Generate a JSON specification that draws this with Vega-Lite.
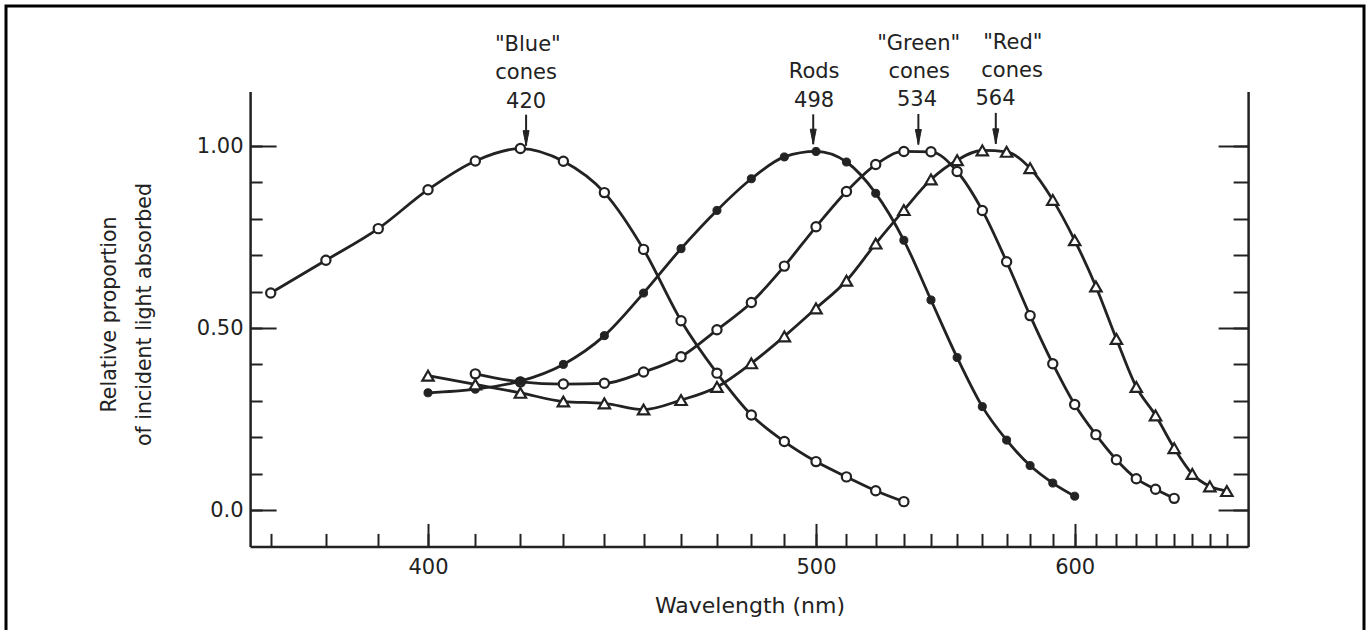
{
  "$schema": "https://vega.github.io/schema/vega-lite/v6.json",
  "width": 1358,
  "height": 630,
  "autosize": {"type": "none"},
  "padding": {"left": 6, "top": 6, "right": 6, "bottom": 0},
  "background": "white",
  "config": {
    "view": {"stroke": "#000000", "strokeWidth": 3},
    "font": "DejaVu Sans",
    "axis": {
      "grid": false,
      "labelFont": "DejaVu Sans",
      "titleFont": "DejaVu Sans",
      "labelColor": "#222222",
      "titleColor": "#222222",
      "tickColor": "#222222",
      "domainColor": "#222222",
      "tickWidth": 2,
      "domainWidth": 2.5,
      "labelFontSize": 21,
      "titleFontSize": 22,
      "titleFontWeight": "normal",
      "labelFlush": false,
      "labelOverlap": false
    }
  },
  "datasets": {
    "curves": [
      {"series": "Blue", "wl": 370, "v": 0.596},
      {"series": "Blue", "wl": 380, "v": 0.686},
      {"series": "Blue", "wl": 390, "v": 0.773},
      {"series": "Blue", "wl": 400, "v": 0.880},
      {"series": "Blue", "wl": 410, "v": 0.959},
      {"series": "Blue", "wl": 420, "v": 0.993},
      {"series": "Blue", "wl": 430, "v": 0.958},
      {"series": "Blue", "wl": 440, "v": 0.872},
      {"series": "Blue", "wl": 450, "v": 0.716},
      {"series": "Blue", "wl": 460, "v": 0.520},
      {"series": "Blue", "wl": 470, "v": 0.376},
      {"series": "Blue", "wl": 480, "v": 0.261},
      {"series": "Blue", "wl": 490, "v": 0.188},
      {"series": "Blue", "wl": 500, "v": 0.133},
      {"series": "Blue", "wl": 510, "v": 0.091},
      {"series": "Blue", "wl": 520, "v": 0.053},
      {"series": "Blue", "wl": 530, "v": 0.023},
      {"series": "Rods", "wl": 400, "v": 0.322},
      {"series": "Rods", "wl": 410, "v": 0.332},
      {"series": "Rods", "wl": 420, "v": 0.354},
      {"series": "Rods", "wl": 430, "v": 0.400},
      {"series": "Rods", "wl": 440, "v": 0.479},
      {"series": "Rods", "wl": 450, "v": 0.596},
      {"series": "Rods", "wl": 460, "v": 0.718},
      {"series": "Rods", "wl": 470, "v": 0.823},
      {"series": "Rods", "wl": 480, "v": 0.910},
      {"series": "Rods", "wl": 490, "v": 0.970},
      {"series": "Rods", "wl": 500, "v": 0.985},
      {"series": "Rods", "wl": 510, "v": 0.956},
      {"series": "Rods", "wl": 520, "v": 0.870},
      {"series": "Rods", "wl": 530, "v": 0.741},
      {"series": "Rods", "wl": 540, "v": 0.577},
      {"series": "Rods", "wl": 550, "v": 0.419},
      {"series": "Rods", "wl": 560, "v": 0.284},
      {"series": "Rods", "wl": 570, "v": 0.192},
      {"series": "Rods", "wl": 580, "v": 0.122},
      {"series": "Rods", "wl": 590, "v": 0.074},
      {"series": "Rods", "wl": 600, "v": 0.038},
      {"series": "Green", "wl": 410, "v": 0.374},
      {"series": "Green", "wl": 420, "v": 0.352},
      {"series": "Green", "wl": 430, "v": 0.346},
      {"series": "Green", "wl": 440, "v": 0.348},
      {"series": "Green", "wl": 450, "v": 0.379},
      {"series": "Green", "wl": 460, "v": 0.421},
      {"series": "Green", "wl": 470, "v": 0.495},
      {"series": "Green", "wl": 480, "v": 0.570},
      {"series": "Green", "wl": 490, "v": 0.670},
      {"series": "Green", "wl": 500, "v": 0.778},
      {"series": "Green", "wl": 510, "v": 0.875},
      {"series": "Green", "wl": 520, "v": 0.949},
      {"series": "Green", "wl": 530, "v": 0.985},
      {"series": "Green", "wl": 540, "v": 0.984},
      {"series": "Green", "wl": 550, "v": 0.930},
      {"series": "Green", "wl": 560, "v": 0.823},
      {"series": "Green", "wl": 570, "v": 0.682},
      {"series": "Green", "wl": 580, "v": 0.534},
      {"series": "Green", "wl": 590, "v": 0.402},
      {"series": "Green", "wl": 600, "v": 0.290},
      {"series": "Green", "wl": 610, "v": 0.207},
      {"series": "Green", "wl": 620, "v": 0.138},
      {"series": "Green", "wl": 630, "v": 0.086},
      {"series": "Green", "wl": 640, "v": 0.057},
      {"series": "Green", "wl": 650, "v": 0.032},
      {"series": "Red", "wl": 400, "v": 0.369},
      {"series": "Red", "wl": 410, "v": 0.345},
      {"series": "Red", "wl": 420, "v": 0.322},
      {"series": "Red", "wl": 430, "v": 0.298},
      {"series": "Red", "wl": 440, "v": 0.293},
      {"series": "Red", "wl": 450, "v": 0.276},
      {"series": "Red", "wl": 460, "v": 0.302},
      {"series": "Red", "wl": 470, "v": 0.338},
      {"series": "Red", "wl": 480, "v": 0.403},
      {"series": "Red", "wl": 490, "v": 0.477},
      {"series": "Red", "wl": 500, "v": 0.554},
      {"series": "Red", "wl": 510, "v": 0.630},
      {"series": "Red", "wl": 520, "v": 0.732},
      {"series": "Red", "wl": 530, "v": 0.824},
      {"series": "Red", "wl": 540, "v": 0.908},
      {"series": "Red", "wl": 550, "v": 0.961},
      {"series": "Red", "wl": 560, "v": 0.988},
      {"series": "Red", "wl": 570, "v": 0.984},
      {"series": "Red", "wl": 580, "v": 0.939},
      {"series": "Red", "wl": 590, "v": 0.852},
      {"series": "Red", "wl": 600, "v": 0.741},
      {"series": "Red", "wl": 610, "v": 0.614},
      {"series": "Red", "wl": 620, "v": 0.470},
      {"series": "Red", "wl": 630, "v": 0.338},
      {"series": "Red", "wl": 640, "v": 0.260},
      {"series": "Red", "wl": 650, "v": 0.170},
      {"series": "Red", "wl": 660, "v": 0.099},
      {"series": "Red", "wl": 670, "v": 0.065},
      {"series": "Red", "wl": 680, "v": 0.052}
    ],
    "labels": [
      {"wl": 421.7, "v": 1.262, "label": "\"Blue\""},
      {"wl": 421.3, "v": 1.183, "label": "cones"},
      {"wl": 421.3, "v": 1.105, "label": "420"},
      {"wl": 499.4, "v": 1.187, "label": "Rods"},
      {"wl": 499.4, "v": 1.106, "label": "498"},
      {"wl": 535.4, "v": 1.265, "label": "\"Green\""},
      {"wl": 535.6, "v": 1.187, "label": "cones"},
      {"wl": 534.8, "v": 1.109, "label": "534"},
      {"wl": 572.6, "v": 1.267, "label": "\"Red\""},
      {"wl": 572.3, "v": 1.190, "label": "cones"},
      {"wl": 565.4, "v": 1.112, "label": "564"}
    ],
    "arrows": [
      {"wl": 421.3, "top": 1.086, "tip": 1.001},
      {"wl": 499.1, "top": 1.087, "tip": 1.005},
      {"wl": 535.3, "top": 1.088, "tip": 1.004},
      {"wl": 565.5, "top": 1.091, "tip": 1.006}
    ]
  },
  "layer": [
    {
      "data": {"name": "curves"},
      "mark": {"type": "line", "interpolate": "monotone", "stroke": "#222222", "strokeWidth": 2.8},
      "encoding": {
        "x": {
          "field": "wl", "type": "quantitative",
          "scale": {"type": "pow", "exponent": -1, "domain": [366.4, 692.9], "range": [244.1, 1242.1], "zero": false, "nice": false},
          "axis": {
            "orient": "bottom", "offset": -89.6, "values": [400, 500, 600],
            "tickSize": -23, "labelPadding": 50, "labelBaseline": "alphabetic",
            "title": "Wavelength (nm)", "titleX": 743.5, "titleY": 65.6, "titleBaseline": "alphabetic", "titleAlign": "center"
          }
        },
        "y": {
          "field": "v", "type": "quantitative",
          "scale": {"type": "linear", "domain": [-0.1, 1.15], "range": [540.4, 85.4], "zero": false, "nice": false},
          "axis": {
            "orient": "left", "offset": -244.1, "values": [0, 0.5, 1],
            "tickSize": -26, "labelPadding": 33,
            "labelExpr": "datum.value === 0 ? '0.0' : format(datum.value, '.2f')",
            "title": ["Relative proportion", "of incident light absorbed"],
            "titleFontSize": 20.5,
            "titleAngle": 270, "titleX": -135, "titleY": 308, "titleBaseline": "alphabetic", "titleLineHeight": 35, "titleAlign": "center"
          }
        },
        "detail": {"field": "series"}
      }
    },
    {
      "data": {"name": "curves"},
      "transform": [{"filter": {"field": "series", "oneOf": ["Blue", "Green"]}}],
      "mark": {"type": "point", "shape": "circle", "filled": true, "fill": "white", "stroke": "#222222", "strokeWidth": 2.2, "size": 85, "opacity": 1},
      "encoding": {
        "x": {
          "field": "wl", "type": "quantitative",
          "scale": {"type": "pow", "exponent": -1, "domain": [366.4, 692.9], "range": [244.1, 1242.1], "zero": false, "nice": false},
          "axis": {
            "orient": "bottom", "offset": -89.6,
            "values": [370, 380, 390, 400, 410, 420, 430, 440, 450, 460, 470, 480, 490, 500, 510, 520, 530, 540, 550, 560, 570, 580, 590, 600, 610, 620, 630, 640, 650, 660, 670, 680],
            "tickSize": -13, "labels": false, "domain": false, "title": null
          }
        },
        "y": {
          "field": "v", "type": "quantitative",
          "scale": {"type": "linear", "domain": [-0.1, 1.15], "range": [540.4, 85.4], "zero": false, "nice": false},
          "axis": {
            "orient": "left", "offset": -244.1,
            "values": [0, 0.1, 0.2, 0.3, 0.4, 0.5, 0.6, 0.7, 0.8, 0.9, 1],
            "tickSize": -12, "labels": false, "domain": false, "title": null
          }
        }
      }
    },
    {
      "data": {"name": "curves"},
      "transform": [{"filter": {"field": "series", "equal": "Rods"}}],
      "mark": {"type": "point", "shape": "circle", "filled": true, "fill": "#222222", "stroke": "#222222", "strokeWidth": 1, "size": 65, "opacity": 1},
      "encoding": {
        "x": {
          "field": "wl", "type": "quantitative",
          "scale": {"type": "pow", "exponent": -1, "domain": [366.4, 692.9], "range": [244.1, 1242.1], "zero": false, "nice": false},
          "axis": null
        },
        "y": {
          "field": "v", "type": "quantitative",
          "scale": {"type": "linear", "domain": [-0.1, 1.15], "range": [540.4, 85.4], "zero": false, "nice": false},
          "axis": {
            "orient": "right", "offset": -115.9, "values": [0, 0.5, 1],
            "tickSize": -30, "labels": false, "domain": true, "title": null
          }
        }
      }
    },
    {
      "data": {"name": "curves"},
      "transform": [{"filter": {"field": "series", "equal": "Red"}}],
      "mark": {"type": "point", "shape": "triangle-up", "filled": true, "fill": "white", "stroke": "#222222", "strokeWidth": 2.2, "size": 130, "opacity": 1},
      "encoding": {
        "x": {
          "field": "wl", "type": "quantitative",
          "scale": {"type": "pow", "exponent": -1, "domain": [366.4, 692.9], "range": [244.1, 1242.1], "zero": false, "nice": false},
          "axis": null
        },
        "y": {
          "field": "v", "type": "quantitative",
          "scale": {"type": "linear", "domain": [-0.1, 1.15], "range": [540.4, 85.4], "zero": false, "nice": false},
          "axis": {
            "orient": "right", "offset": -115.9,
            "values": [0, 0.1, 0.2, 0.3, 0.4, 0.5, 0.6, 0.7, 0.8, 0.9, 1],
            "tickSize": -15, "labels": false, "domain": false, "title": null
          }
        }
      }
    },
    {
      "data": {"name": "labels"},
      "mark": {"type": "text", "font": "DejaVu Sans", "fontSize": 21, "fill": "#222222", "align": "center", "baseline": "alphabetic"},
      "encoding": {
        "x": {"field": "wl", "type": "quantitative", "scale": {"type": "pow", "exponent": -1, "domain": [366.4, 692.9], "range": [244.1, 1242.1], "zero": false, "nice": false}, "axis": null},
        "y": {"field": "v", "type": "quantitative", "scale": {"type": "linear", "domain": [-0.1, 1.15], "range": [540.4, 85.4], "zero": false, "nice": false}, "axis": null},
        "text": {"field": "label"}
      }
    },
    {
      "data": {"name": "arrows"},
      "mark": {"type": "rule", "stroke": "#222222", "strokeWidth": 2},
      "encoding": {
        "x": {"field": "wl", "type": "quantitative", "scale": {"type": "pow", "exponent": -1, "domain": [366.4, 692.9], "range": [244.1, 1242.1], "zero": false, "nice": false}, "axis": null},
        "y": {"field": "top", "type": "quantitative", "scale": {"type": "linear", "domain": [-0.1, 1.15], "range": [540.4, 85.4], "zero": false, "nice": false}, "axis": null},
        "y2": {"field": "tip"}
      }
    },
    {
      "data": {"name": "arrows"},
      "mark": {"type": "point", "shape": "M-0.4,-1L0.4,-1L0,1Z", "filled": true, "fill": "#222222", "stroke": "#222222", "strokeWidth": 1, "size": 225, "yOffset": -7.5, "opacity": 1},
      "encoding": {
        "x": {"field": "wl", "type": "quantitative", "scale": {"type": "pow", "exponent": -1, "domain": [366.4, 692.9], "range": [244.1, 1242.1], "zero": false, "nice": false}, "axis": null},
        "y": {"field": "tip", "type": "quantitative", "scale": {"type": "linear", "domain": [-0.1, 1.15], "range": [540.4, 85.4], "zero": false, "nice": false}, "axis": null}
      }
    }
  ],
  "resolve": {"axis": {"x": "independent", "y": "independent"}}
}
